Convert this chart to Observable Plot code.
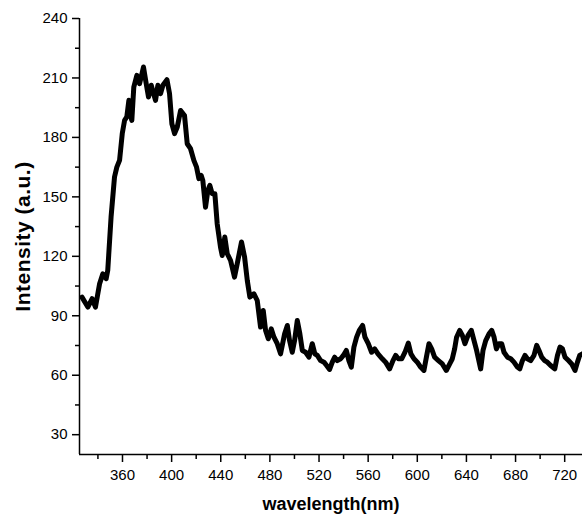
<!DOCTYPE html>
<html>
<head>
<meta charset="utf-8">
<script src="https://cdn.jsdelivr.net/npm/d3@7"></script>
<script src="https://cdn.jsdelivr.net/npm/@observablehq/plot@0.6"></script>
<style>
  html, body { margin: 0; padding: 0; background: white; }
  svg [aria-label="x-axis label"] text { font-weight: bold; font-size: 18px; }
  svg [aria-label="y-axis label"] text { font-weight: bold; font-size: 21px; letter-spacing: 0.5px; }
</style>
</head>
<body>
<div id="chart"></div>
<script>
const wavelength = [
  327, 331.8, 335.3, 338, 341.3, 344, 346.7, 348, 350.7, 353.5, 355.4, 357.6, 359.8, 361.7, 363.5,
  365.2, 366.5, 367.6, 369.2, 371.7, 373.9, 377.1, 379.3, 381.2, 383.4, 385.3, 386.9, 388.8, 391,
  392.9, 396.2, 398.3, 400.2, 402.4, 404.6, 407.3, 410.5, 412.7, 415.4, 418.1, 420.3, 422.2, 424.1,
  425.4, 427.6, 429.5, 431.1, 433, 435.2, 437.1, 439.8, 441.2, 443.3, 445.3, 448, 451.2, 453.4,
  456.9, 459.4, 461.6, 463.7, 467, 469.7, 472.4, 474.6, 476.5, 478.7, 481.1, 483.3, 486, 488.7,
  492, 494.2, 496, 498.2, 500.1, 502.3, 504.4, 506.4, 509.1, 511.8, 514.5, 516.6, 518.6, 521.3,
  524, 526.2, 528.6, 530.8, 532.7, 534.9, 537.6, 539.8, 542.2, 544.3, 546.3, 548.4, 550.6, 552.8,
  555.5, 557.4, 560.1, 562.8, 565.3, 568, 571.5, 574.2, 577.5, 580.2, 582.4, 584.6, 587.3, 590,
  592.7, 594.8, 597.3, 600, 602.7, 605.4, 607.4, 609.5, 611.7, 614.1, 617.2, 620.4, 623.6, 626.4,
  628.5, 630.4, 632, 634.5, 636.7, 638.8, 641.3, 644, 646.2, 648.3, 651.6, 653.5, 655.7, 658.4,
  660.6, 662.5, 664.4, 666.5, 668.7, 670.6, 673.4, 676.1, 678.7, 681.5, 683.4, 685.6, 687.7, 689.6,
  692.3, 695, 697.2, 699.1, 701.3, 703.7, 705.9, 708.6, 711.9, 714.1, 716.2, 718.2, 720.3, 723.1,
  725.7, 728.4, 730.4, 732.2, 734.4
];
const intensity = [
  99.4, 94.4, 98.6, 94.4, 106, 111.2, 108.7, 112.9, 139.8, 160, 165, 168.4, 181.9, 188.6, 190.3,
  198.7, 191.1, 188.6, 205.4, 211.3, 207.1, 215.5, 207.1, 200.4, 206.3, 202.1, 198.7, 206.3, 202.1,
  206.3, 209.1, 202.1, 186.9, 181.9, 185.2, 193.6, 191, 176.8, 174.3, 168.4, 165, 159.2, 160.8,
  158.3, 144.8, 153.3, 155.8, 151.6, 151.6, 136.4, 124.6, 120.4, 129.7, 121.3, 117.9, 109.5, 116.3,
  127.2, 119.6, 107.8, 99.4, 101.1, 97.7, 84.3, 92.7, 82.6, 78.4, 83.4, 79.2, 75.9, 70.8,
  80.9, 85.1, 77.5, 71.6, 77.5, 87.6, 80.9, 72.5, 71.6, 69.1, 75.9, 70.8, 70, 67.4,
  66.6, 64.9, 62.9, 66.6, 69.1, 67.4, 68.3, 70, 72.5, 67.4, 64.1, 74.2, 79.2, 82.6,
  85.1, 79.2, 75.9, 71.6, 73.3, 70.8, 68.3, 66.6, 63.2, 67.4, 70, 68.3, 68.3, 71.6,
  76.2, 70.8, 68.3, 66.6, 64.1, 62.4, 69.1, 75.9, 73.3, 69.1, 67.4, 65.7, 62.4, 65.7,
  68.3, 73.3, 79.2, 82.6, 80.1, 75.9, 80.1, 82.6, 77.5, 72.5, 63.2, 72.5, 77.5, 80.9,
  82.6, 79.2, 73.3, 75.9, 75.9, 71.6, 69.1, 68.3, 66.6, 64.1, 63.2, 67.4, 70, 68.3,
  67.4, 70, 75.1, 72.5, 69.1, 67.4, 66.6, 64.9, 63.2, 70, 74.2, 73.3, 69.1, 67.4,
  65.7, 62.4, 66.6, 70, 70.8
];
const xMajorTicks = [360, 400, 440, 480, 520, 560, 600, 640, 680, 720];
const xMinorTicks = [340, 380, 420, 460, 500, 540, 580, 620, 660, 700];
const yMajorTicks = [30, 60, 90, 120, 150, 180, 210, 240];
const yMinorTicks = [45, 75, 105, 135, 165, 195, 225];
const xLabel = "wavelength(nm)";
const yLabel = "Intensity (a.u.)";

const data = wavelength.map((w, i) => ({w, v: intensity[i]}));

const chart = Plot.plot({
  width: 582,
  height: 519,
  marginLeft: 79,
  marginRight: 0,
  marginTop: 18,
  marginBottom: 65,
  style: {
    fontFamily: "'Liberation Sans', Arial, sans-serif",
    fontSize: "15px",
    color: "black",
    background: "white",
    overflow: "visible"
  },
  x: {domain: [325, 734.5]},
  y: {domain: [20, 240]},
  marks: [
    Plot.axisX(xMinorTicks, {tickSize: 5, strokeWidth: 1.5, text: null, label: null}),
    Plot.axisX(xMajorTicks, {
      tickSize: 8, tickPadding: 7, strokeWidth: 1.5,
      label: xLabel, labelAnchor: "center", labelOffset: 55, labelArrow: "none"
    }),
    Plot.axisY(yMinorTicks, {tickSize: 4, strokeWidth: 1.5, text: null, label: null}),
    Plot.axisY(yMajorTicks, {
      tickSize: 7, tickPadding: 5, strokeWidth: 1.5,
      label: yLabel, labelAnchor: "center", labelOffset: 64, labelArrow: "none"
    }),
    Plot.ruleY([20], {strokeWidth: 1.5}),
    Plot.ruleX([325], {strokeWidth: 1.5}),
    Plot.line(data, {x: "w", y: "v", stroke: "black", strokeWidth: 5, strokeLinejoin: "round", strokeLinecap: "round"})
  ]
});
document.getElementById("chart").appendChild(chart);
</script>
</body>
</html>
